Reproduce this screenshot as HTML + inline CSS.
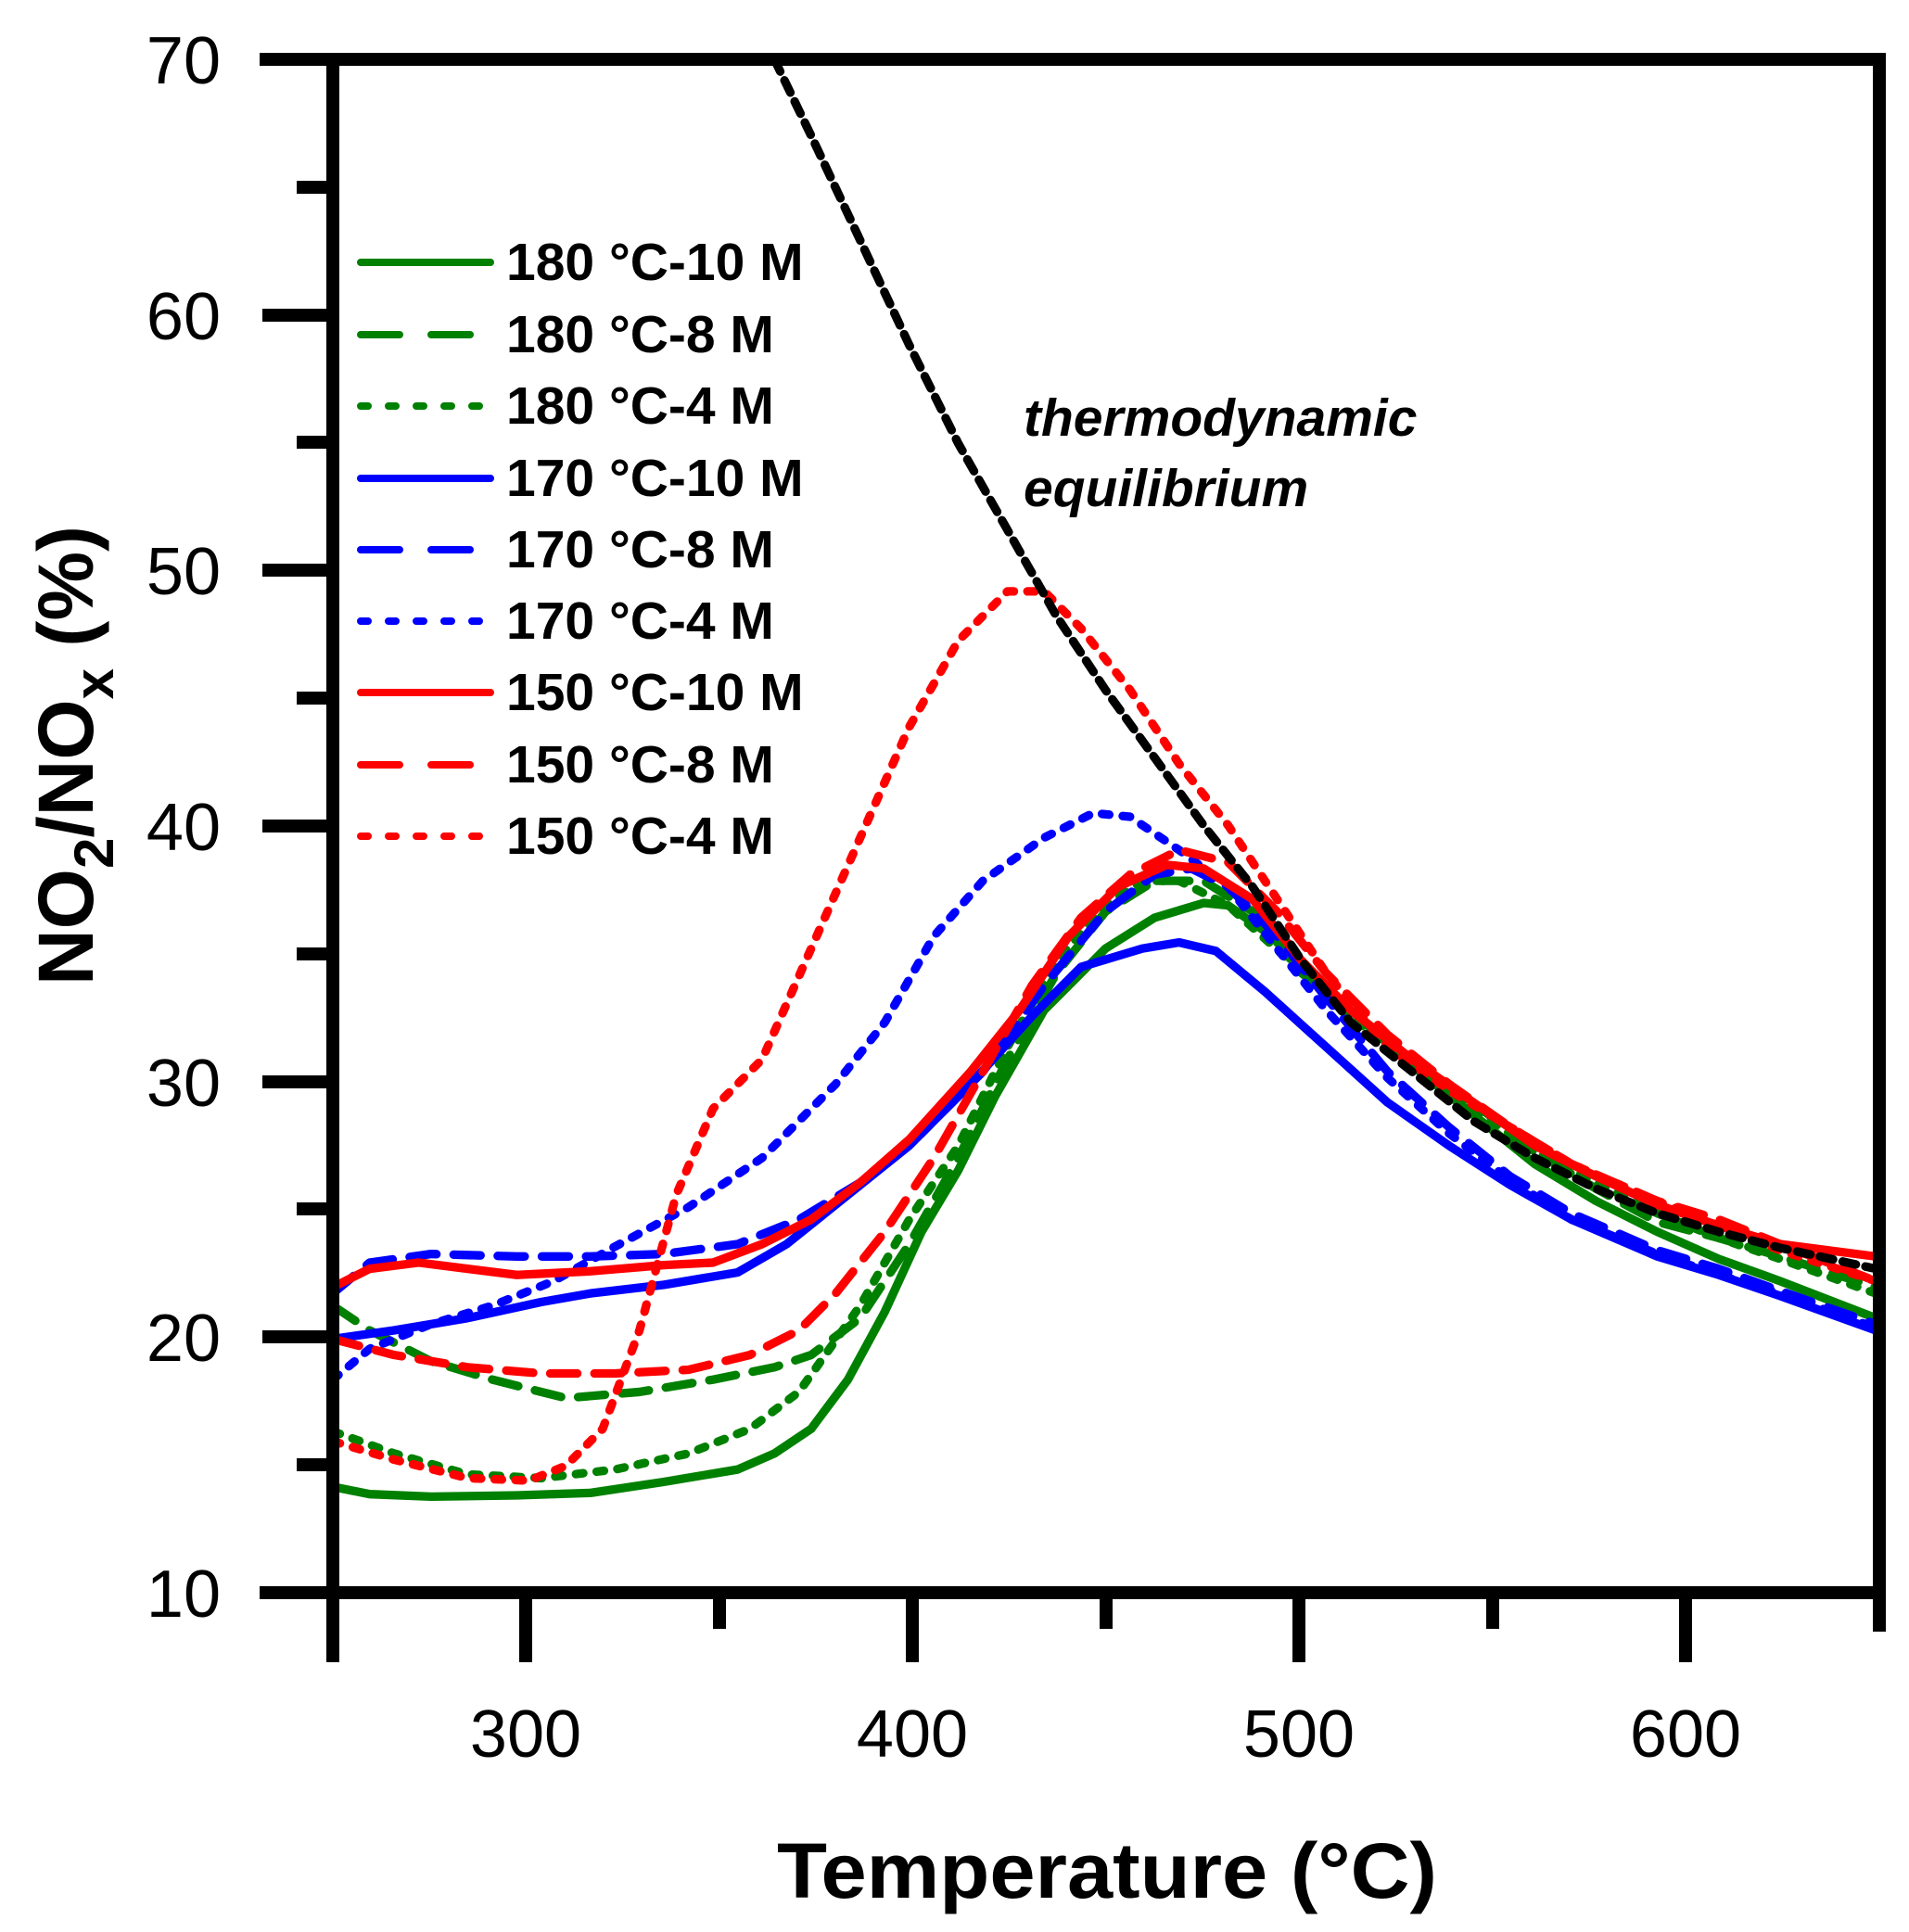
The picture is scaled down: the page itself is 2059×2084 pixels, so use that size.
<!DOCTYPE html>
<html><head><meta charset="utf-8"><style>
html,body{margin:0;padding:0;background:#fff;}
svg{display:block;}
text{font-family:"Liberation Sans",Arial,sans-serif;}
</style></head><body>
<svg width="2059" height="2084" viewBox="0 0 2059 2084" xmlns="http://www.w3.org/2000/svg">
<defs><clipPath id="c"><rect x="359" y="64" width="1668" height="1654"/></clipPath></defs>
<g clip-path="url(#c)">
<g transform="translate(359,64) scale(1.3228,1.3285) translate(-270,-48)" fill="none" stroke-width="7" stroke-linejoin="round" stroke-linecap="round">
<polyline stroke="#008000" points="270,1207 300,1213 350,1215 420,1214 480,1212 540,1203 600,1193 630,1180 660,1160 690,1120 720,1065 750,1000 780,950 810,890 850,820 900,770 940,745 980,733 1000,735 1050,770 1100,820 1150,865 1200,905 1250,945 1300,975 1350,1000 1400,1022 1450,1040 1528,1070"/>
<polyline stroke="#008000" stroke-dasharray="22,14" points="270,1060 300,1080 350,1105 400,1120 460,1135 520,1130 580,1120 630,1110 660,1100 700,1070 740,1010 780,940 820,860 860,790 900,740 940,715 980,715 1020,740 1060,790 1100,820 1150,860 1200,895 1250,935 1300,965 1350,992 1400,1005 1450,1020 1528,1045"/>
<polyline stroke="#008000" stroke-dasharray="6,11" points="270,1162 320,1180 380,1197 440,1200 500,1193 560,1180 610,1160 650,1130 700,1060 740,990 780,930 820,850 860,780 900,735 930,715 960,715 1000,735 1050,780 1100,825 1150,865 1200,900 1250,935 1300,960 1350,985 1400,1005 1450,1022 1528,1050"/>
<polyline stroke="#0000ff" points="270,1087 320,1080 380,1070 440,1057 480,1050 540,1043 600,1033 640,1010 690,970 740,930 790,880 840,825 880,785 930,770 960,765 990,772 1030,805 1080,850 1130,895 1180,930 1230,962 1280,990 1350,1020 1400,1035 1450,1052 1528,1080"/>
<polyline stroke="#0000ff" stroke-dasharray="22,14" points="270,1050 300,1025 350,1018 420,1020 480,1020 540,1018 600,1010 650,990 700,960 750,920 800,870 850,800 900,740 940,710 970,705 1000,720 1040,760 1080,810 1130,870 1180,915 1230,955 1280,985 1350,1015 1400,1030 1450,1048 1528,1075"/>
<polyline stroke="#0000ff" stroke-dasharray="6,11" points="270,1120 300,1095 350,1075 400,1060 450,1040 500,1012 560,980 620,940 680,880 720,830 760,760 800,715 850,680 890,660 920,663 960,690 1000,720 1040,770 1080,820 1130,875 1180,920 1230,958 1280,990 1350,1018 1400,1035 1450,1050 1528,1078"/>
<polyline stroke="#ff0000" points="270,1045 300,1030 340,1025 380,1030 420,1035 480,1032 540,1027 580,1025 620,1010 660,990 700,960 740,925 790,870 830,820 870,760 910,720 950,702 980,705 1020,730 1060,780 1100,820 1150,860 1200,895 1250,930 1300,955 1350,978 1400,995 1450,1010 1528,1020"/>
<polyline stroke="#ff0000" stroke-dasharray="22,14" points="270,1087 320,1100 380,1110 440,1115 500,1115 560,1112 610,1100 650,1080 680,1050 720,1000 760,940 800,870 840,800 880,745 920,710 960,690 1000,700 1040,740 1080,790 1130,840 1180,880 1230,915 1280,945 1350,975 1400,990 1450,1010 1528,1040"/>
<polyline stroke="#ff0000" stroke-dasharray="6,11" points="270,1170 320,1185 380,1200 430,1202 460,1190 490,1160 520,1080 550,970 580,900 620,860 660,770 700,680 740,590 780,520 820,480 850,480 880,510 920,560 960,620 1000,670 1040,730 1080,790 1130,850 1180,885 1230,915 1280,945 1350,975 1400,995 1450,1015 1528,1040"/>
<polyline stroke="#000" stroke-dasharray="11,8" points="630,48 660,110 700,195 740,280 780,360 820,430 860,500 900,560 940,615 980,670 1020,720 1060,780 1100,830 1150,870 1200,910 1250,940 1300,965 1350,985 1400,1000 1450,1013 1528,1030"/>
</g>
</g>
<g stroke="#000" stroke-width="14" fill="none">
<line x1="280" y1="64" x2="2034" y2="64"/>
<line x1="280" y1="1718" x2="2034" y2="1718"/>
<line x1="359" y1="57" x2="359" y2="1793"/>
<line x1="2027" y1="57" x2="2027" y2="1760"/>
<line x1="283" y1="1442" x2="359" y2="1442"/>
<line x1="283" y1="1167" x2="359" y2="1167"/>
<line x1="283" y1="891" x2="359" y2="891"/>
<line x1="283" y1="615" x2="359" y2="615"/>
<line x1="283" y1="340" x2="359" y2="340"/>
<line x1="320" y1="1580" x2="359" y2="1580"/>
<line x1="320" y1="1304" x2="359" y2="1304"/>
<line x1="320" y1="1029" x2="359" y2="1029"/>
<line x1="320" y1="753" x2="359" y2="753"/>
<line x1="320" y1="477" x2="359" y2="477"/>
<line x1="320" y1="202" x2="359" y2="202"/>
<line x1="567" y1="1718" x2="567" y2="1793"/>
<line x1="984" y1="1718" x2="984" y2="1793"/>
<line x1="1401" y1="1718" x2="1401" y2="1793"/>
<line x1="1818" y1="1718" x2="1818" y2="1793"/>
<line x1="776" y1="1718" x2="776" y2="1757"/>
<line x1="1193" y1="1718" x2="1193" y2="1757"/>
<line x1="1610" y1="1718" x2="1610" y2="1757"/>
</g>
<g font-size="72" text-anchor="end" fill="#000">
<text x="238" y="1744">10</text>
<text x="238" y="1468">20</text>
<text x="238" y="1193">30</text>
<text x="238" y="917">40</text>
<text x="238" y="641">50</text>
<text x="238" y="366">60</text>
<text x="238" y="90">70</text>
</g>
<g font-size="72" text-anchor="middle" fill="#000">
<text x="567" y="1895">300</text>
<text x="984" y="1895">400</text>
<text x="1401" y="1895">500</text>
<text x="1818" y="1895">600</text>
</g>
<text x="1194" y="2047" font-size="84" font-weight="bold" text-anchor="middle" textLength="712" lengthAdjust="spacingAndGlyphs">Temperature (°C)</text>
<text transform="translate(100,815) rotate(-90)" font-size="84" font-weight="bold" text-anchor="middle">NO<tspan font-size="60" dy="22">2</tspan><tspan dy="-22">/NO</tspan><tspan font-size="60" dy="22">x</tspan><tspan dy="-22"> (%)</tspan></text>
<g font-weight="bold" font-style="italic" fill="#000">
<text x="1104" y="470" font-size="57">thermodynamic</text>
<text x="1104" y="546" font-size="57">equilibrium</text>
</g>
<g stroke-width="8" stroke-linecap="round" fill="none">
<line x1="389" y1="283" x2="529" y2="283" stroke="#008000"/>
<line x1="389" y1="361" x2="529" y2="361" stroke="#008000" stroke-dasharray="42,34"/>
<line x1="389" y1="438" x2="529" y2="438" stroke="#008000" stroke-dasharray="8,22"/>
<line x1="389" y1="516" x2="529" y2="516" stroke="#0000ff"/>
<line x1="389" y1="593" x2="529" y2="593" stroke="#0000ff" stroke-dasharray="42,34"/>
<line x1="389" y1="670" x2="529" y2="670" stroke="#0000ff" stroke-dasharray="8,22"/>
<line x1="389" y1="747" x2="529" y2="747" stroke="#ff0000"/>
<line x1="389" y1="825" x2="529" y2="825" stroke="#ff0000" stroke-dasharray="42,34"/>
<line x1="389" y1="902" x2="529" y2="902" stroke="#ff0000" stroke-dasharray="8,22"/>
</g>
<g font-size="57" font-weight="bold" fill="#000">
<text x="546" y="302">180 °C-10 M</text>
<text x="546" y="380">180 °C-8 M</text>
<text x="546" y="457">180 °C-4 M</text>
<text x="546" y="535">170 °C-10 M</text>
<text x="546" y="612">170 °C-8 M</text>
<text x="546" y="689">170 °C-4 M</text>
<text x="546" y="766">150 °C-10 M</text>
<text x="546" y="844">150 °C-8 M</text>
<text x="546" y="921">150 °C-4 M</text>
</g>
</svg>
</body></html>
